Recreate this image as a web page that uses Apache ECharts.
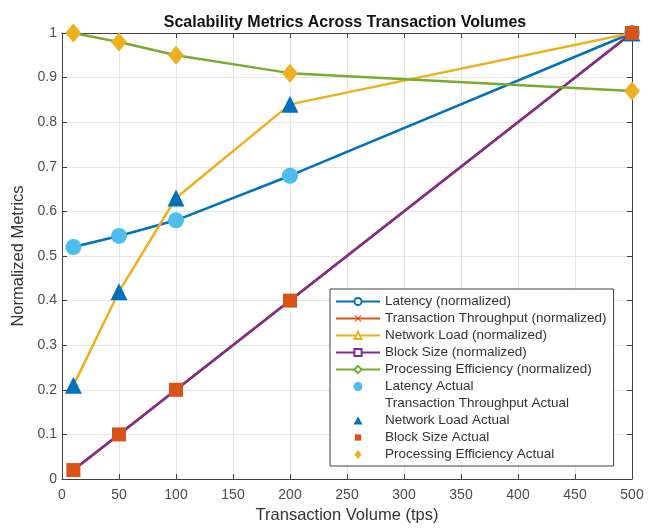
<!DOCTYPE html>
<html>
<head>
<meta charset="utf-8">
<script src="https://cdn.jsdelivr.net/npm/echarts@6/dist/echarts.min.js"></script>
<style>
  html, body { margin: 0; padding: 0; background: #fff; }
  #chart { width: 656px; height: 529px; }
</style>
</head>
<body>
<div id="chart"></div>
<script>
// transaction volumes (tps)
const volumes = [10, 50, 100, 200, 500];

// normalized curves
const latencyNorm = [0.52, 0.545, 0.58, 0.68, 1.0];
const throughputNorm = [0.02, 0.1, 0.2, 0.4, 1.0];
const networkNorm = [0.21, 0.42, 0.63, 0.84, 1.0];
const blockNorm = [0.02, 0.1, 0.2, 0.4, 1.0];
const efficiencyNorm = [1.0, 0.98, 0.95, 0.91, 0.87];

// "actual" markers
const latencyActual = [0.52, 0.545, 0.58, 0.68, 1.0];
const throughputActual = [0.02, 0.1, 0.2, 0.4, 1.0];
const networkActual = [0.21, 0.42, 0.63, 0.84, 1.0];
const blockActual = [0.02, 0.1, 0.2, 0.4, 1.0];
const efficiencyActual = [1.0, 0.98, 0.95, 0.91, 0.87];

const xTicks = { min: 0, max: 500, interval: 50 };
const yTicks = { min: 0, max: 1, interval: 0.1 };

const zip = (xs, ys) => xs.map((x, i) => [x, ys[i]]);

const axisColor = '#404040';
const font = 'Liberation Sans';
const labelFont = { color: '#4d4d4d', fontSize: 14, fontFamily: font };
const crossPath = 'path://M0,1L1,0L5,4L9,0L10,1L6,5L10,9L9,10L5,6L1,10L0,9L4,5Z';

// small legend icons (paths keep their aspect, extra M points add margin)
const legendTriangle = 'path://M0,0M10,10M5,0.5L10,9.5L0,9.5Z';
const legendSquare = 'path://M0,0M10,10M1.5,1.5L8.5,1.5L8.5,8.5L1.5,8.5Z';
const legendDiamond = 'path://M0,0M10,10M5,0L9,5L5,10L1,5Z';

function lineSeries(name, data, color, symbol) {
    return {
        name: name,
        type: 'line',
        data: zip(volumes, data),
        symbol: symbol,
        showSymbol: false,
        color: color,
        lineStyle: { width: 2.5, color: color },
        z: 2
    };
}

function markerSeries(name, data, color, symbol, size) {
    return {
        name: name,
        type: 'scatter',
        data: zip(volumes, data),
        symbol: symbol,
        symbolSize: size,
        color: color,
        itemStyle: { color: color, opacity: 1 },
        z: 3
    };
}

const chart = echarts.init(document.getElementById('chart'));

chart.setOption({
    animation: false,
    backgroundColor: '#fff',
    title: {
        text: 'Scalability Metrics Across Transaction Volumes',
        left: 340,
        textAlign: 'center',
        top: 10,
        textStyle: { fontSize: 16, fontWeight: 'bold', color: '#111', fontFamily: font }
    },
    grid: { left: 62, right: 24, top: 33, bottom: 48, show: false },
    legend: {
        orient: 'vertical',
        left: 330,
        top: 289,
        itemWidth: 44,
        itemHeight: 9,
        itemGap: 2,
        symbolKeepAspect: true,
        padding: [5, 7, 4, 5],
        backgroundColor: '#fff',
        borderColor: axisColor,
        borderWidth: 1,
        textStyle: { fontSize: 13.5, color: '#333', fontFamily: font, lineHeight: 15 },
        data: [
            'Latency (normalized)',
            'Transaction Throughput (normalized)',
            'Network Load (normalized)',
            'Block Size (normalized)',
            'Processing Efficiency (normalized)',
            'Latency Actual',
            'Transaction Throughput Actual',
            { name: 'Network Load Actual', icon: legendTriangle },
            { name: 'Block Size Actual', icon: legendSquare },
            { name: 'Processing Efficiency Actual', icon: legendDiamond }
        ]
    },
    xAxis: [
        {
            type: 'value',
            ...xTicks,
            name: 'Transaction Volume (tps)',
            nameLocation: 'middle',
            nameGap: 28,
            nameTextStyle: { fontSize: 16.5, color: '#333', fontFamily: font },
            axisLine: { show: true, onZero: false, lineStyle: { color: axisColor } },
            axisTick: { show: true, inside: true, length: 5, lineStyle: { color: axisColor } },
            axisLabel: { ...labelFont, margin: 9 },
            splitLine: { show: true, lineStyle: { color: '#e6e6e6' } }
        },
        {
            type: 'value',
            ...xTicks,
            position: 'top',
            axisLine: { show: true, onZero: false, lineStyle: { color: axisColor } },
            axisTick: { show: true, inside: true, length: 5, lineStyle: { color: axisColor } },
            axisLabel: { show: false },
            splitLine: { show: false }
        }
    ],
    yAxis: [
        {
            type: 'value',
            ...yTicks,
            name: 'Normalized Metrics',
            nameLocation: 'middle',
            nameGap: 28,
            nameTextStyle: { fontSize: 16.5, color: '#333', fontFamily: font },
            axisLine: { show: true, onZero: false, lineStyle: { color: axisColor } },
            axisTick: { show: true, inside: true, length: 5, lineStyle: { color: axisColor } },
            axisLabel: { ...labelFont, margin: 5 },
            splitLine: { show: true, lineStyle: { color: '#e6e6e6' } }
        },
        {
            type: 'value',
            ...yTicks,
            position: 'right',
            axisLine: { show: true, onZero: false, lineStyle: { color: axisColor } },
            axisTick: { show: true, inside: true, length: 5, lineStyle: { color: axisColor } },
            axisLabel: { show: false },
            splitLine: { show: false }
        }
    ],
    series: [
        lineSeries('Latency (normalized)', latencyNorm, '#0072BD', 'emptyCircle'),
        lineSeries('Transaction Throughput (normalized)', throughputNorm, '#D95319', crossPath),
        lineSeries('Network Load (normalized)', networkNorm, '#EDB120', 'emptyTriangle'),
        lineSeries('Block Size (normalized)', blockNorm, '#7E2F8E', 'emptyRect'),
        lineSeries('Processing Efficiency (normalized)', efficiencyNorm, '#77AC30', 'emptyDiamond'),
        markerSeries('Latency Actual', latencyActual, '#4DBEEE', 'circle', 16),
        markerSeries('Transaction Throughput Actual', throughputActual, 'rgba(0,0,0,0)', 'circle', 8),
        markerSeries('Network Load Actual', networkActual, '#0072BD', 'triangle', 17),
        markerSeries('Block Size Actual', blockActual, '#D95319', 'rect', 14),
        markerSeries('Processing Efficiency Actual', efficiencyActual, '#EDB120', 'diamond', [16, 19])
    ]
});
</script>
</body>
</html>
